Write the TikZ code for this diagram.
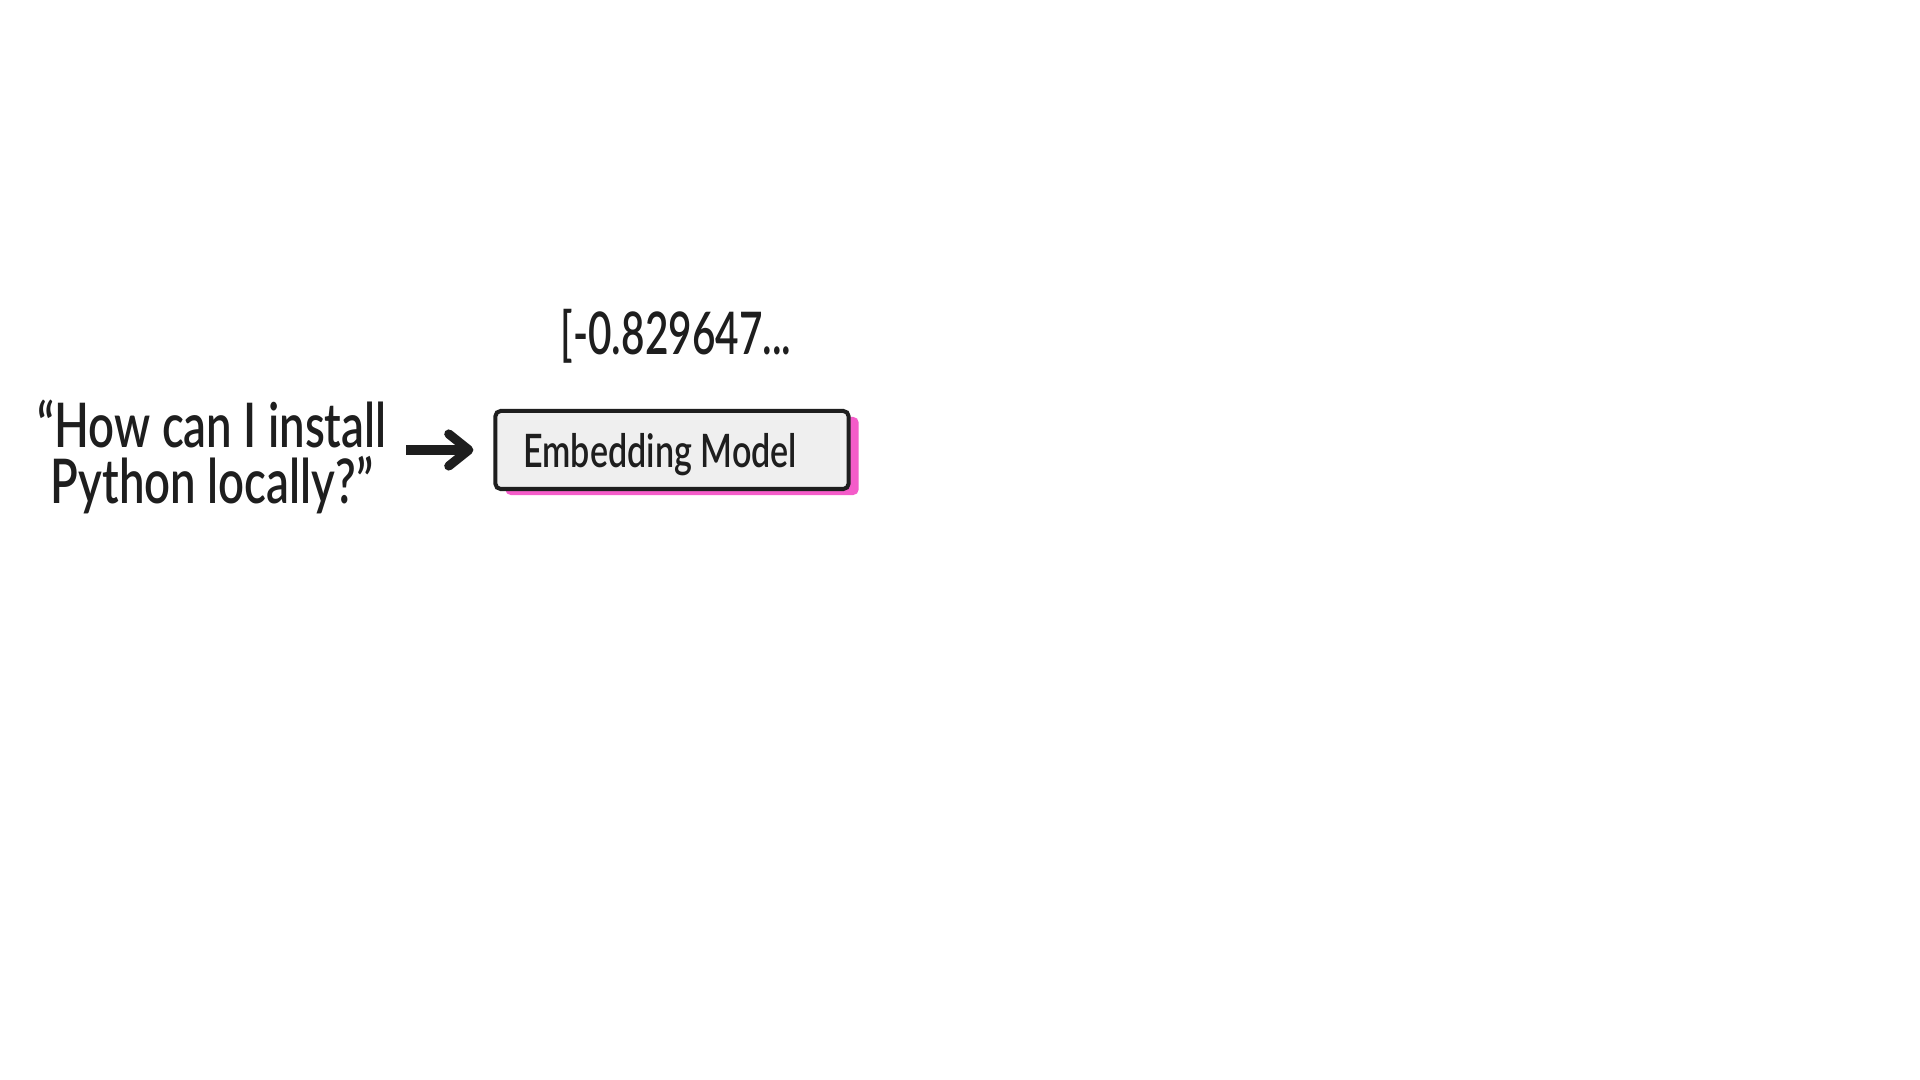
\documentclass[tikz,border=0pt]{standalone}
\usepackage{fontspec}
\usepackage{xcolor}
\usetikzlibrary{arrows.meta,shadows}
\newfontfamily\handfont{Lato}[FakeStretch=0.74, BoldFont={Lato Semibold}, BoldFeatures={FakeStretch=0.74}]
\newfontfamily\numfont{Lato}[FakeStretch=0.69, BoldFont={Lato Semibold}, BoldFeatures={FakeStretch=0.69}]
\definecolor{inkgray}{HTML}{1E1E1E}
\definecolor{boxgray}{HTML}{EFEFEF}
\definecolor{shadowpink}{HTML}{F45CC9}
\tikzset{
  hand text/.style={font=\handfont\bfseries, text=inkgray, inner sep=0pt},
  model box/.style={hand text, draw=inkgray, line width=1.15pt, fill=boxgray,
    rounded corners=1.5pt, minimum width=3.53cm, minimum height=0.78cm,
    text width=2.97cm, inner xsep=0.28cm, align=left, text depth=0pt,
    drop shadow={shadow xshift=0.1cm, shadow yshift=-0.06cm, fill=shadowpink, opacity=1}},
  flow arrow/.style={-{Straight Barb[length=0.2cm, width=0.32cm, line cap=round, line join=round]},
    line width=2.6pt, draw=inkgray}
}

\begin{document}
\begin{tikzpicture}[x=0.01cm, y=-0.01cm]
\useasboundingbox[fill=white] (0,0) rectangle (1920,1080);
% query, model and output
\node [hand text, align=center, font=\handfont\bfseries\fontsize{17.5}{16}\selectfont] (query) at (212,457) {“How can I install\\Python locally?”};
\node [model box, font=\handfont\bfseries\fontsize{13.1}{15}\selectfont] (embed) at (672,450) {\spaceskip=0pt\relax Embedding Model};
\node [hand text, anchor=base, font=\numfont\bfseries\fontsize{16.7}{18}\selectfont] (vector) at (676,355) {[-0.829647...};
\draw [flow arrow, shorten <=0.19cm, shorten >=0.2cm] (query.east |- embed.west) -- (embed.west);
\end{tikzpicture}
\end{document}
